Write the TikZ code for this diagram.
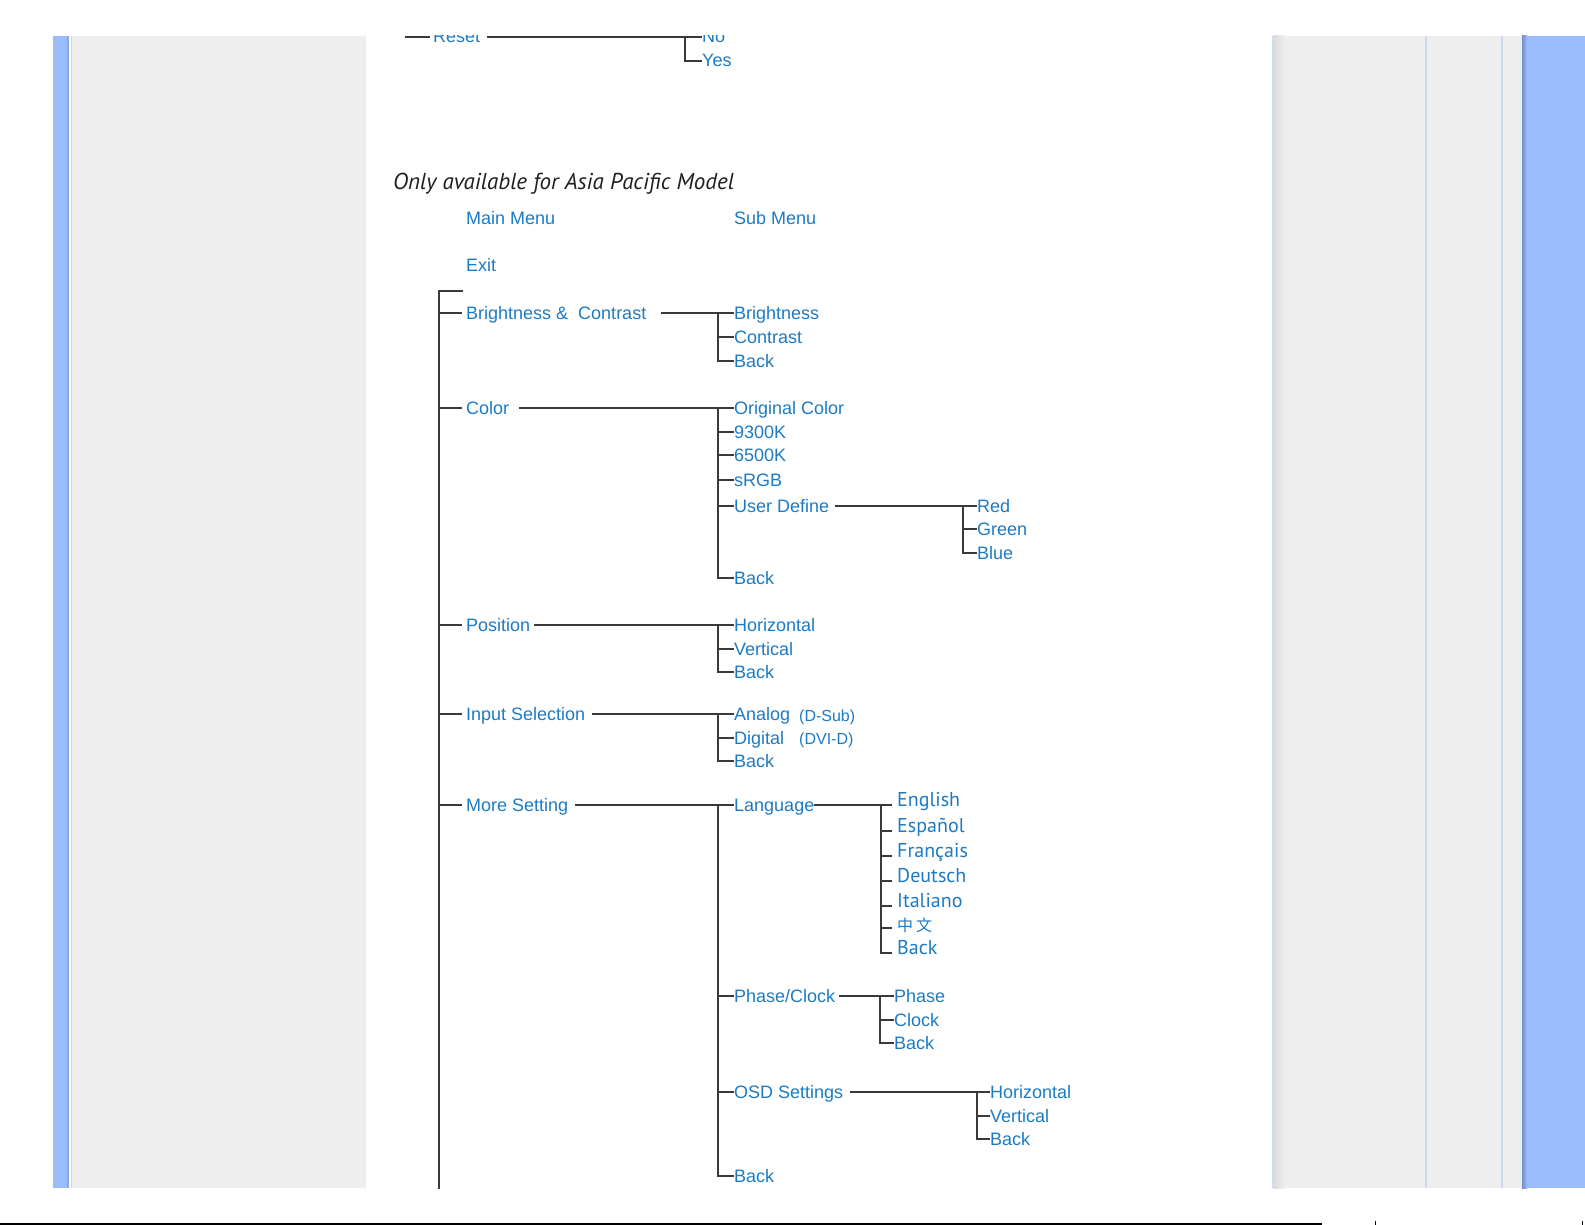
\documentclass[tikz,border=0pt]{standalone}
\usepackage{fontspec}
\setmainfont{Liberation Sans}
\newfontfamily\langfont{PT Sans}
\newfontfamily\cjkfont{Noto Sans CJK SC}
\usetikzlibrary{positioning}

\definecolor{menublue}{RGB}{28,122,196}
\definecolor{stripblue}{RGB}{155,188,250}
\definecolor{stripedge}{RGB}{135,166,236}
\definecolor{thinblue}{RGB}{202,216,246}
\definecolor{panelgray}{RGB}{238,238,238}
\definecolor{linegray}{RGB}{58,58,58}

\tikzset{
    item/.style={anchor=west, inner sep=0pt, text height=12pt, text depth=0pt,
        text=menublue, font=\fontsize{18}{20}\selectfont},
    note/.style={item, font=\fontsize{16}{18}\selectfont},
    langitem/.style={item, text height=2pt, font=\langfont\fontsize{20}{22}\selectfont},
    link/.style={draw=linegray, line width=1.4pt},
}

\begin{document}
\begin{tikzpicture}[x=1pt, y=-1pt]
    \useasboundingbox (0,0) rectangle (1585,1225);
    % page frame
    \fill[stripblue] (53,36) rectangle (69,1188);
    \fill[stripedge] (67,36) rectangle (69,1188);
    \fill[thinblue] (70.5,36) rectangle (72,1188);
    \fill[panelgray] (72,36) rectangle (366,1188);
    \fill[panelgray] (1272,36) rectangle (1522,1188);
    \shade[left color=black!14, right color=panelgray] (1273,36) rectangle (1285,1188);
    \fill[thinblue] (1271.5,36) rectangle (1273,1188);
    \foreach \x in {1426,1502}
        \fill[thinblue] (\x-0.6,36) rectangle (\x+0.6,1188);
    \fill[stripblue] (1522,36) rectangle (1585,1188);
    \shade[left color=stripedge!85!black, right color=stripblue] (1522,36) rectangle (1527,1188);
    \draw[line width=1.5pt] (0,1224) -- (1322,1224);
    \draw (1375,1221) -- (1375,1225);
    \draw (1582,1221) -- (1582,1225);

    \begin{scope}
    \clip (366,36) rectangle (1272,1188);

    % end of the block above (cut off by the page)
    \coordinate (r-trunk) at (405,37);
    \coordinate (r-x) at (685,0);
    \node[item] (r-reset) at (433,37) {Reset};
    \node[item] (r-no) at (702,37) {No};
    \node[item] (r-yes) at (702,61) {Yes};
    \draw[link, shorten >=3pt] (r-trunk) -- (r-reset.west);
    \draw[link, shorten <=7pt] (r-reset.east) -- (r-no.west);
    \draw[link] (r-x |- r-no.west) |- (r-yes.west);

    \node[anchor=base west, inner sep=0pt, text=black!88,
        font=\langfont\itshape\fontsize{23}{25}\selectfont] (title) at (393,190)
        {Only available for Asia Pacific Model};
    \node[item] (h-main) at (466,219) {Main Menu};
    \node[item] (h-sub) at (734,219) {Sub Menu};
    \node[item] (m-exit) at (466,265) {Exit};

    % main menu
    \coordinate (trunk) at (439,291);
    \coordinate (trunk-end) at (439,1200);
    \draw[link] ([xshift=24pt]trunk) -- (trunk) -- (trunk-end);
    \foreach \name/\y/\txt in {bc/313/Brightness \&\ \ Contrast, color/408/Color,
        pos/625/Position, input/714/Input Selection, more/805/More Setting}
    {
        \node[item] (m-\name) at (466,\y) {\txt};
        \draw[link, shorten >=4pt] (trunk |- m-\name.west) -- (m-\name.west);
    }

    % sub menus
    \coordinate (subx) at (718,0);
    \foreach \name/\y/\txt in {bright/313/Brightness, contr/337/Contrast, bcback/361/Back,
        orig/408/Original Color, k93/432/9300K, k65/455/6500K, srgb/480/sRGB,
        user/506/User Define, colback/578/Back,
        hor/625/Horizontal, ver/649/Vertical, posback/672/Back,
        analog/714/Analog, digital/738/Digital, inback/761/Back,
        lang/805/Language, phcl/996/{Phase/Clock}, osd/1092/OSD Settings, moreback/1176/Back}
        \node[item] (s-\name) at (734,\y) {\txt};
    \node[note] (n-dsub) at (799,715) {(D-Sub)};
    \node[note] (n-dvid) at (799,738) {(DVI-D)};

    \draw[link, shorten <=15pt] (m-bc.east) -- (s-bright.west);
    \draw[link, shorten <=10pt] (m-color.east) -- (s-orig.west);
    \draw[link, shorten <=4pt] (m-pos.east) -- (s-hor.west);
    \draw[link, shorten <=7pt] (m-input.east) -- (s-analog.west);
    \draw[link, shorten <=7pt] (m-more.east) -- (s-lang.west);
    \foreach \first/\last in {bright/bcback, orig/colback, hor/posback, analog/inback, lang/moreback}
        \draw[link] (subx |- s-\first.west) |- (s-\last.west);
    \foreach \name in {contr, k93, k65, srgb, user, ver, digital, phcl, osd}
        \draw[link] (subx |- s-\name.west) -- (s-\name.west);

    % user define
    \coordinate (rgbx) at (963,0);
    \foreach \name/\y/\txt in {red/506/Red, green/529/Green, blue/553/Blue}
        \node[item] (u-\name) at (977,\y) {\txt};
    \draw[link, shorten <=6pt] (s-user.east) -- (u-red.west);
    \draw[link] (rgbx |- u-red.west) |- (u-blue.west);
    \draw[link] (rgbx |- u-green.west) -- (u-green.west);

    % language
    \coordinate (langx) at (881,0);
    \foreach \name/\y/\txt in {en/805/English, es/831/Español, fr/856/Français,
        de/881/Deutsch, it/906/Italiano,
        zh/928/{\raisebox{-2.5pt}{\cjkfont\fontsize{16}{18}\selectfont 中\hspace{3pt}文}},
        lback/953/Back}
        \node[langitem] (l-\name) at (897,\y) {\txt};
    \draw[link, shorten >=5pt] (s-lang.east) -- (l-en.west);
    \draw[link, shorten >=5pt] (langx |- l-en.west) |- (l-lback.west);
    \foreach \name in {es, fr, de, it, zh}
        \draw[link, shorten >=5pt] (langx |- l-\name.west) -- (l-\name.west);

    % phase / clock
    \coordinate (phx) at (880,0);
    \foreach \name/\y/\txt in {ph/996/Phase, clk/1020/Clock, pback/1043/Back}
        \node[item] (p-\name) at (894,\y) {\txt};
    \draw[link, shorten <=4pt] (s-phcl.east) -- (p-ph.west);
    \draw[link] (phx |- p-ph.west) |- (p-pback.west);
    \draw[link] (phx |- p-clk.west) -- (p-clk.west);

    % osd settings
    \coordinate (osdx) at (977,0);
    \foreach \name/\y/\txt in {oh/1092/Horizontal, ov/1116/Vertical, oback/1139/Back}
        \node[item] (o-\name) at (990,\y) {\txt};
    \draw[link, shorten <=7pt] (s-osd.east) -- (o-oh.west);
    \draw[link] (osdx |- o-oh.west) |- (o-oback.west);
    \draw[link] (osdx |- o-ov.west) -- (o-ov.west);
    \end{scope}
\end{tikzpicture}
\end{document}
